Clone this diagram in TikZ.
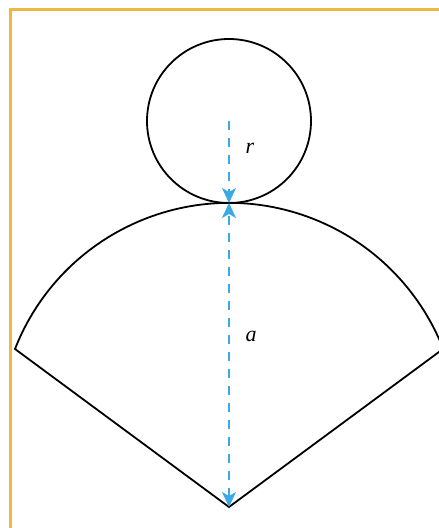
\documentclass[tikz,border=0pt]{standalone}
\usepackage{fontspec}
\setmainfont{Liberation Serif}
\usetikzlibrary{arrows.meta}
\definecolor{framec}{HTML}{EBB944}
\definecolor{dimc}{HTML}{3BA9E6}
\tikzset{
  shapeline/.style={line width=1.8pt, black},
  dimline/.style={dimc, line width=1.8pt, dash pattern=on 9pt off 8pt},
  tipA/.style={-{Stealth[length=15pt,width=14pt,inset=4pt]}},
  tipB/.style={{Stealth[length=15pt,width=14pt,inset=4pt]}-{Stealth[length=15pt,width=14pt,inset=4pt]}},
  lbl/.style={font=\fontsize{22}{24}\selectfont\itshape, inner sep=0pt}
}
\begin{document}
\begin{tikzpicture}[x=1pt,y=1pt]
\useasboundingbox (0,0) rectangle (439,528);
\clip (0,0) rectangle (439,528);
% frame
\draw[framec, line width=3pt] (10,-100) rectangle (700,518);
% coordinates
\coordinate (apex) at (229,21);
\coordinate (left) at (15,179);
\coordinate (right) at (443,179);
\coordinate (top) at (229,325);
\coordinate (cc) at (229,407);
% sector
\draw[shapeline, line join=miter] (right) -- (apex) -- (left) arc[start angle=158.6, end angle=21.4, radius=230pt];
% circle
\draw[shapeline] (cc) circle[radius=82pt];
% dimension arrows
\draw[dimline, tipA] (cc) -- (top);
\draw[dimline, tipB] (apex) -- (top);
\node[lbl] (r) at (250,380) {r};
\node[lbl] (a) at (251,192) {a};
\end{tikzpicture}
\end{document}
